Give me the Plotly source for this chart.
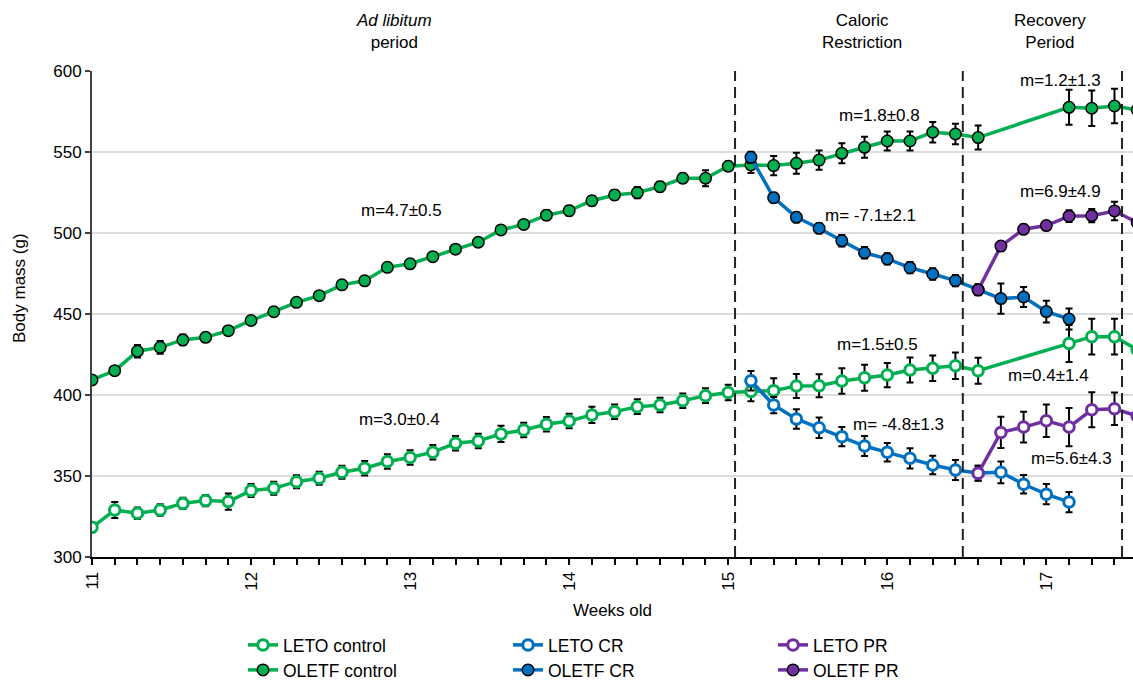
import plotly.graph_objects as go

# ---- days of age at each weighing ----
days_adlib = [77, 78, 79, 80, 81, 82, 83, 84, 85, 86, 87, 88, 89, 90, 91, 92, 93,
              94, 95, 96, 97, 98, 99, 100, 101, 102, 103, 104, 105]
days_ctrl_late = [106, 107, 108, 109, 110, 111, 112, 113, 114, 115, 116, 120, 121, 122, 123]
days_cr = [106, 107, 108, 109, 110, 111, 112, 113, 114, 115, 116, 117, 118, 119, 120]
days_pr = [116, 117, 118, 119, 120, 121, 122, 123]

# ---- body mass (g), mean and SEM ----
oletf_ctrl = [409.3, 415.0, 427.0, 429.4, 434.0, 435.6, 439.7, 446.0, 451.4, 457.2, 461.3,
              468.0, 470.5, 478.8, 481.0, 485.4, 490.0, 494.3, 501.9, 505.3, 511.0, 513.8,
              519.9, 523.5, 524.9, 528.6, 533.8, 533.8, 541.2,
              542.0, 541.6, 543.0, 545.0, 549.2, 552.9, 556.8, 556.8, 562.2, 561.1, 558.9,
              577.6, 577.0, 578.4, 576.0]
oletf_ctrl_err = [2.5, 2.5, 3.8, 4.0, 3.3, 2.5, 2.5, 2.5, 2.5, 2.5, 2.5, 2.5, 2.5, 2.5, 2.5,
                  2.5, 2.5, 2.5, 2.5, 2.5, 3.0, 3.0, 3.0, 3.0, 3.5, 3.0, 3.0, 4.9, 3.0,
                  5.0, 5.9, 6.5, 6.0, 6.2, 6.5, 5.9, 5.9, 6.3, 6.3, 7.4,
                  10.8, 11.0, 10.6, 10.5]

leto_ctrl = [318.3, 329.0, 327.0, 329.0, 333.1, 334.8, 334.2, 341.0, 342.4, 346.5, 348.6,
             352.3, 354.8, 358.9, 361.4, 364.7, 370.2, 371.6, 376.0, 378.4, 381.9, 384.0,
             387.7, 389.7, 392.8, 393.8, 396.5, 399.6, 401.6,
             402.1, 402.7, 405.6, 405.7, 408.6, 410.7, 412.3, 415.4, 416.5, 418.1, 415.0,
             431.8, 436.0, 436.0, 428.0]
leto_ctrl_err = [3.0, 5.0, 3.5, 3.5, 3.5, 3.5, 5.0, 4.0, 4.0, 4.0, 4.0, 4.0, 4.5, 4.5, 4.5,
                 4.5, 4.5, 4.5, 5.0, 4.5, 4.5, 4.5, 5.0, 4.5, 4.5, 4.5, 4.5, 4.5, 4.8,
                 6.0, 7.7, 7.4, 7.1, 7.9, 8.0, 7.5, 7.7, 7.9, 8.2, 8.0,
                 11.4, 11.0, 11.0, 10.5]

oletf_cr = [546.7, 521.8, 509.7, 502.9, 495.2, 487.8, 484.0, 478.6, 474.7, 470.6, 465.0,
            459.5, 460.5, 451.5, 446.9]
oletf_cr_err = [3.5, 3.0, 3.0, 3.0, 3.5, 3.5, 3.5, 3.5, 3.5, 3.5, 3.5, 9.3, 6.2, 6.7, 6.5]

leto_cr = [408.8, 393.8, 385.2, 379.8, 374.3, 368.5, 364.6, 360.9, 356.8, 353.7, 351.8,
           352.3, 344.9, 338.8, 333.9]
leto_cr_err = [6.0, 5.0, 6.0, 6.3, 5.9, 6.2, 5.7, 6.2, 5.7, 6.2, 4.6, 6.7, 5.7, 6.2, 6.2]

oletf_pr = [464.8, 491.9, 502.3, 504.6, 510.4, 510.7, 513.6, 506.5]
oletf_pr_err = [3.0, 2.5, 3.0, 2.5, 3.6, 4.1, 5.7, 4.0]

leto_pr = [351.7, 376.9, 380.2, 384.1, 380.2, 390.9, 391.5, 387.0]
leto_pr_err = [4.6, 9.6, 9.5, 10.0, 11.8, 10.8, 10.0, 10.0]

# ---- period boundaries (weeks) and slope labels ----
period_bounds = [15.043, 16.475, 17.476]
slope_text = ["m=4.7±0.5", "m=3.0±0.4", "m=1.8±0.8", "m= -7.1±2.1", "m=1.5±0.5",
              "m= -4.8±1.3", "m=1.2±1.3", "m=6.9±4.9", "m=0.4±1.4", "m=5.6±4.3"]
slope_x = [12.948, 12.935, 15.953, 15.896, 15.940, 16.072, 17.092, 17.092, 17.016, 17.161]
slope_y = [514.2, 384.6, 572.8, 510.5, 430.9, 381.5, 594.4, 525.9, 412.3, 361.0]
period_text = ["<i>Ad libitum</i><br>period", "Caloric<br>Restriction", "Recovery<br>Period"]
period_x = [12.90, 15.84, 17.023]

GREEN = "#00B050"
BLUE = "#0070C0"
PURPLE = "#7030A0"
FONT = "Liberation Sans, Arial, sans-serif"


def weeks(days):
    return [d / 7 for d in days]


def series(name, days, vals, errs, color, filled, legend):
    if filled:
        marker = dict(symbol="circle", size=11.5, color=color,
                      line=dict(color="black", width=1.5))
    else:
        marker = dict(symbol="circle", size=10.5, color="white",
                      line=dict(color=color, width=3))
    return go.Scatter(
        x=weeks(days), y=vals, name=name, mode="lines+markers",
        line=dict(color=color, width=3.5), marker=marker,
        error_y=dict(type="data", array=errs, visible=True, color="black",
                     thickness=2, width=3.5),
        legend=legend,
    )


fig = go.Figure()
fig.add_trace(series("LETO control", days_adlib + days_ctrl_late, leto_ctrl, leto_ctrl_err,
                     GREEN, False, "legend"))
fig.add_trace(series("OLETF control", days_adlib + days_ctrl_late, oletf_ctrl, oletf_ctrl_err,
                     GREEN, True, "legend2"))
fig.add_trace(series("LETO CR", days_cr, leto_cr, leto_cr_err, BLUE, False, "legend"))
fig.add_trace(series("OLETF CR", days_cr, oletf_cr, oletf_cr_err, BLUE, True, "legend2"))
fig.add_trace(series("LETO PR", days_pr, leto_pr, leto_pr_err, PURPLE, False, "legend"))
fig.add_trace(series("OLETF PR", days_pr, oletf_pr, oletf_pr_err, PURPLE, True, "legend2"))

for xb in period_bounds:
    fig.add_shape(type="line", xref="x", yref="y", x0=xb, x1=xb, y0=300, y1=602,
                  line=dict(color="#222222", width=2, dash="11px,6px"), layer="above")

for t, x, y in zip(slope_text, slope_x, slope_y):
    fig.add_annotation(x=x, y=y, xref="x", yref="y", text=t, showarrow=False,
                       font=dict(family=FONT, size=17, color="black"))

for t, x in zip(period_text, period_x):
    fig.add_annotation(x=x, y=1.082, xref="x", yref="paper", text=t, showarrow=False,
                       font=dict(family=FONT, size=17, color="black"), yanchor="middle")

# y-axis caption, placed slightly above the axis centre
fig.add_annotation(x=-73 / 1041, y=(557 - 288) / 486, xref="paper", yref="paper",
                   xanchor="center", yanchor="middle",
                   text="Body mass (g)", textangle=-90, showarrow=False,
                   font=dict(family=FONT, size=17, color="black"))

legend_style = dict(orientation="h", xref="container", yref="container", xanchor="left",
                    yanchor="middle", entrywidth=220, entrywidthmode="pixels",
                    font=dict(family=FONT, size=17.5, color="black"),
                    bgcolor="rgba(0,0,0,0)", itemsizing="trace", tracegroupgap=0)

fig.update_layout(
    width=1133, height=682,
    margin=dict(l=92, r=0, t=71, b=125),
    paper_bgcolor="white", plot_bgcolor="white",
    font=dict(family=FONT, size=17, color="black"),
    showlegend=True,
    legend=dict(x=243 / 1133, y=(682 - 645) / 682, **legend_style),
    legend2=dict(x=243 / 1133, y=(682 - 670) / 682, **legend_style),
    xaxis=dict(
        range=[11, 17.545], tickvals=[11, 12, 13, 14, 15, 16, 17], tickangle=-90,
        ticks="outside", ticklen=6, tickwidth=1.5, tickcolor="black",
        showline=True, linecolor="black", linewidth=2, showgrid=False, zeroline=False,
        minor=dict(tick0=11, dtick=1 / 7, ticks="outside", ticklen=6, tickwidth=1.5,
                   tickcolor="black", showgrid=False),
        title=dict(text="Weeks old", font=dict(family=FONT, size=17), standoff=14),
        tickfont=dict(family=FONT, size=17),
    ),
    yaxis=dict(
        range=[300, 600], dtick=50, ticks="outside", ticklen=5, tickwidth=1.5,
        tickcolor="#404040", showline=True, linecolor="#404040", linewidth=2,
        showgrid=True, gridcolor="#dddddd", gridwidth=1.5, zeroline=False,
        tickfont=dict(family=FONT, size=17),
    ),
)

fig.write_html("out.html")
